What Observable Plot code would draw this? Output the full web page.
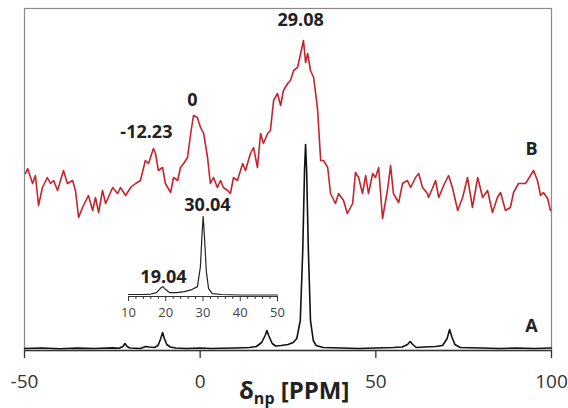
<!DOCTYPE html>
<html>
<head>
<meta charset="utf-8">
<script src="https://cdn.jsdelivr.net/npm/d3@7"></script>
<script src="https://cdn.jsdelivr.net/npm/@observablehq/plot@0.6"></script>
<style>
  body { margin: 0; background: white; }
  #wrap { position: relative; width: 568px; height: 408px; overflow: hidden; font-family: "Open Sans", sans-serif; }
  #inset { position: absolute; left: 108px; top: 200px; }
  #xtitle { position: absolute; left: 239px; top: 376px; font-size: 24px; font-weight: bold; color: #222; line-height: 28px; white-space: nowrap; }
  #xtitle sub { font-size: 16px; vertical-align: -5px; line-height: 0; }
</style>
</head>
<body>
<div id="wrap">
  <div id="main"></div>
  <div id="inset"></div>
  <div id="xtitle">δ<sub>np</sub> [PPM]</div>
</div>
<script>
// Spectrum B (red), chemical shift in ppm and intensity (a.u.)
const redPpm = [-49.7,-49.1,-47.7,-46.9,-46.0,-44.9,-43.5,-42.6,-41.7,-40.6,-38.9,-37.8,-36.3,-35.5,-34.6,-33.5,-31.8,-30.6,-29.8,-28.9,-27.8,-26.9,-24.9,-23.5,-22.7,-21.2,-19.8,-18.4,-17.0,-15.6,-14.7,-13.3,
  -12.7,-11.9,-10.7,-9.9,-8.4,-7.6,-6.4,-5.6,-4.7,-3.6,-2.7,-1.9,-0.8,0.1,1.0,2.1,2.9,3.8,4.9,5.8,6.6,7.8,8.6,9.5,10.6,12.1,12.9,14.3,15.2,16.3,17.2,18.0,19.2,20.0,20.9,22.0,22.9,23.7,24.9,25.7,26.6,27.7,28.6,29.4,30.0,30.6,31.4,32.3,33.4,34.3,35.1,36.3,37.1,38.5,39.4,40.8,41.9,43.4,44.2,45.1,46.2,47.1,47.9,49.1,49.9,50.8,51.9,53.3,54.2,55.0,56.5,57.6,59.0,59.9,61.3,62.2,63.3,64.7,
  65.0,66.1,67.0,67.9,69.3,70.7,71.8,73.3,74.7,76.1,77.5,79.0,80.4,81.8,83.2,84.6,85.5,86.9,88.3,89.2,90.6,92.6,94.9,96.0,96.9,97.7,98.9,99.7];
const redInt = [177,182,167,175,145,163,173,167,170,160,180,167,170,160,133,143,155,140,153,138,160,147,163,157,163,155,163,167,170,190,187,202,
  197,180,183,167,158,173,170,183,187,193,217,235,233,223,217,193,167,173,163,170,163,160,157,173,170,187,180,197,203,183,217,207,217,220,250,257,245,260,267,270,280,283,297,310,288,297,280,273,242,190,190,183,157,147,157,150,137,147,178,173,157,175,157,177,173,183,132,160,185,157,148,167,170,163,173,177,163,157,
  153,162,170,153,165,175,163,140,153,173,143,173,153,160,138,153,158,140,143,158,167,167,180,170,155,158,152,140];

// Spectrum A (black)
const blackPpm = [-50,-45,-40,-35,-30,-25,-23,-22,-21.4,-20.8,-20,-17,-15.5,-14.5,-13,-12,-11.2,-10.7,-10.2,-9.5,-8.5,-7,-4,0,3,6,10,14,16,17.5,18.5,19,19.5,20.5,21.5,23,25,26.5,27.5,28.5,29.2,29.7,30.0,30.3,30.8,31.4,32.2,33,35,40,45,50,55,57.5,59,59.8,60.5,61.5,64,67,69,70.3,71,71.6,72.5,74,80,85,90,95,100];
const blackInt = [2,2.5,1.8,2.4,2,2.6,2.2,4,7,4,2.5,2,4,3.5,3,5,12,18,12,6,3.5,2.5,2,2.5,2,2.2,2.5,3,4,8,15,20,15,7,4.5,5,6,8,12,30,100,180,206,180,100,30,10,5,3,2.5,2,2.5,3,3.5,6,9,6,3,3.5,4,5,12,21,14,6,3,2.5,2,2.5,2,2.5];

// Inset spectrum
const insetPpm = [10,14,16,17.5,18.5,19.2,20,21,23,25,27,28.5,29.3,29.7,30.04,30.4,30.9,31.5,32.5,35,40,45,50];
const insetInt = [2,2,2.5,4,8,10,7,4,4,5,7,10,30,60,81,60,25,8,3,2,1.5,1.5,1.5];

// Annotations
const mainLabelText = ["29.08","0","-12.23","B","A"];
const mainLabelPpm = [28.6,-2.2,-15.3,94.3,94.3];
const mainLabelInt = [330,250,218,201,24];
const insetLabelText = ["19.04","30.04"];
const insetLabelPpm = [19.4,31.2];
const insetLabelInt = [20,92];

const xTicks = [-50,0,50,100];
const insetTicks = [10,20,30,40,50];
const insetMinorTicks = [12,14,16,18,22,24,26,28,32,34,36,38,42,44,46,48];

const red = redPpm.map((x,i)=>({x, y: redInt[i]}));
const black = blackPpm.map((x,i)=>({x, y: blackInt[i]}));
const inset = insetPpm.map((x,i)=>({x, y: insetInt[i]}));
const mainLabels = mainLabelText.map((t,i)=>({t, x: mainLabelPpm[i], y: mainLabelInt[i]}));
const insetLabels = insetLabelText.map((t,i)=>({t, x: insetLabelPpm[i], y: insetLabelInt[i]}));

const main = Plot.plot({
  width: 568, height: 408,
  marginLeft: 24, marginRight: 17, marginTop: 8, marginBottom: 58,
  x: {domain: [-50, 100]},
  y: {domain: [0, 342], axis: null},
  style: {fontFamily: "Open Sans", background: "white", overflow: "visible"},
  marks: [
    Plot.frame({stroke: "#8a8a8a", strokeWidth: 1.2}),
    Plot.line(red, {x: "x", y: "y", stroke: "#c8232c", strokeWidth: 1.6}),
    Plot.line(black, {x: "x", y: "y", stroke: "#111", strokeWidth: 1.6}),
    Plot.ruleY([0], {stroke: "#333", strokeWidth: 1.5}),
    Plot.axisX({ticks: xTicks, tickSize: 8, tickPadding: 16, fontSize: 19, stroke: "#333", fill: "#333", strokeWidth: 1.3, tickFormat: d => String(d), label: null}),
    Plot.text(mainLabels, {x: "x", y: "y", text: "t", fontSize: 18, fontWeight: "bold", fill: "#222"})
  ]
});
document.getElementById("main").appendChild(main);

const ins = Plot.plot({
  width: 190, height: 125,
  marginLeft: 20, marginRight: 21, marginTop: 15, marginBottom: 29,
  x: {domain: [10, 50]},
  y: {domain: [0, 82], axis: null},
  style: {fontFamily: "Open Sans", background: "transparent", overflow: "visible"},
  marks: [
    Plot.line(inset, {x: "x", y: "y", stroke: "#222", strokeWidth: 1.2}),
    Plot.ruleY([0], {stroke: "#333", strokeWidth: 1.2}),
    Plot.axisX({ticks: insetMinorTicks, tickSize: 3, tickFormat: () => "", stroke: "#333", label: null}),
    Plot.axisX({ticks: insetTicks, tickSize: 5, tickPadding: 6, fontSize: 13, fill: "#444", stroke: "#333", tickFormat: d => String(d), label: null}),
    Plot.text(insetLabels, {x: "x", y: "y", text: "t", fontSize: 18, fontWeight: "bold", fill: "#222"})
  ]
});
document.getElementById("inset").appendChild(ins);
</script>
</body>
</html>
